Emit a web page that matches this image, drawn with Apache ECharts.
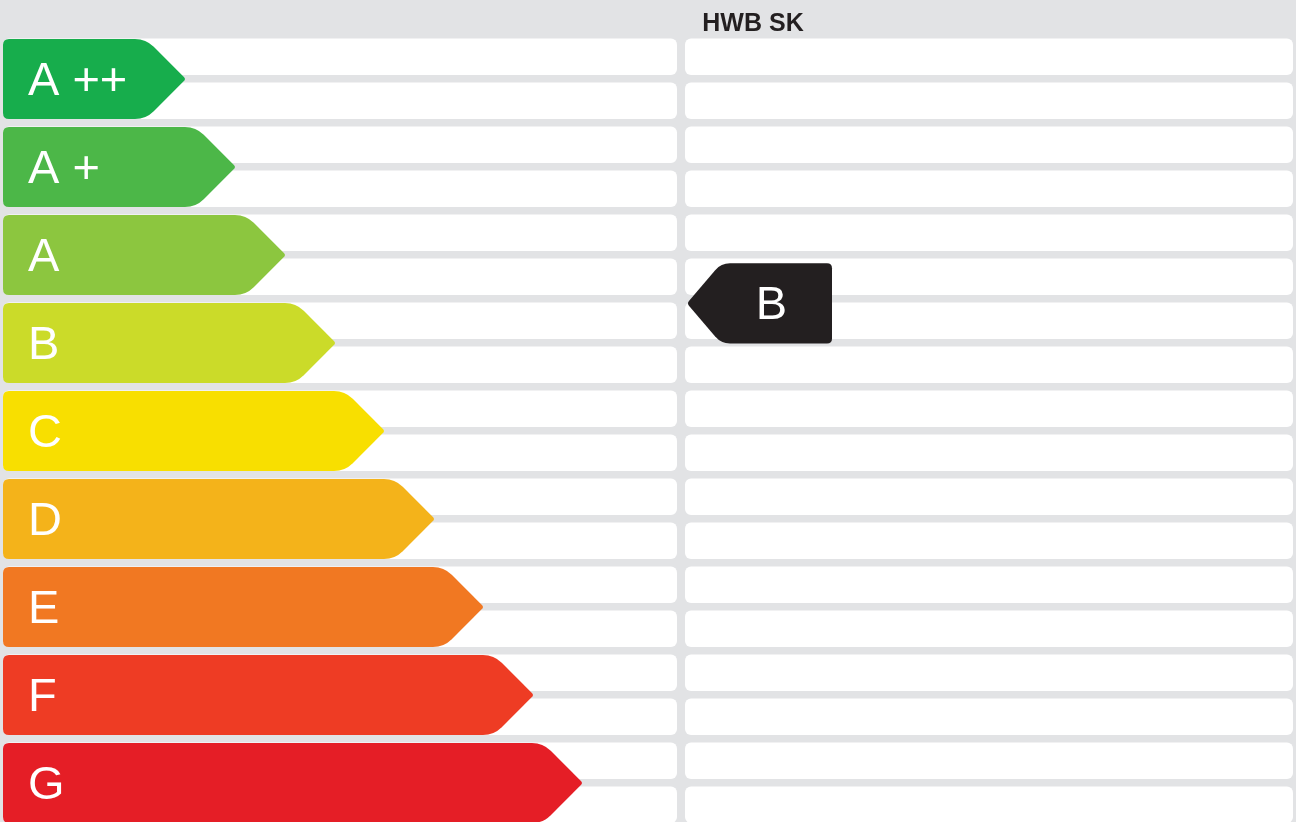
<!DOCTYPE html>
<html><head><meta charset="utf-8">
<script src="https://cdn.jsdelivr.net/npm/echarts@6/dist/echarts.min.js"></script>
<style>html,body{margin:0;padding:0;background:#e2e3e5}#chart{width:1296px;height:822px}</style>
</head><body><div id="chart"></div>
<script>
// ---- data ----
const classLabels = ['A ++', 'A +', 'A', 'B', 'C', 'D', 'E', 'F', 'G'];
const classTips = [186, 236, 286, 336, 385, 435, 484, 534, 583];
const indicatorLabel = 'B';
const indicatorValue = 3.05; // position on class scale (0 = top of A++)
const headerText = 'HWB SK';
const rowIndices = [0,1,2,3,4,5,6,7,8,9,10,11,12,13,14,15,16,17];

// ---- styles ----
const palette = ['#17ad4c', '#4cb748', '#8cc63f', '#cbdb29', '#f8df00', '#f4b31a', '#f17822', '#ee3c24', '#e51e26'];
const FONT = '"Liberation Sans", Arial, Helvetica, sans-serif';

function roundedPath(pts, radii) {
  let d = '';
  const n = pts.length;
  for (let i = 0; i < n; i++) {
    const p = pts[i], prev = pts[(i - 1 + n) % n], next = pts[(i + 1) % n];
    const r = radii[i];
    const v1 = [prev[0] - p[0], prev[1] - p[1]], l1 = Math.hypot(v1[0], v1[1]);
    const v2 = [next[0] - p[0], next[1] - p[1]], l2 = Math.hypot(v2[0], v2[1]);
    const a = [p[0] + v1[0] / l1 * r, p[1] + v1[1] / l1 * r];
    const b = [p[0] + v2[0] / l2 * r, p[1] + v2[1] / l2 * r];
    d += (i === 0 ? 'M' : 'L') + a[0].toFixed(2) + ' ' + a[1].toFixed(2) +
      ' Q' + p[0].toFixed(2) + ' ' + p[1].toFixed(2) + ' ' + b[0].toFixed(2) + ' ' + b[1].toFixed(2) + ' ';
  }
  return d + 'Z';
}

const chart = echarts.init(document.getElementById('chart'), null, {renderer: 'canvas'});

// grid spans y 35..822 (787px); one class band = 88px
const yMax = 787 / 88;

const option = {
  backgroundColor: '#e2e3e5',
  animation: false,
  title: {
    text: headerText, left: 753, top: 12, textAlign: 'center', padding: 0,
    textStyle: {fontSize: 25, fontWeight: 'bold', color: '#231f20', fontFamily: FONT}
  },
  grid: {left: 0, right: 0, top: 35, bottom: 0},
  xAxis: {type: 'value', min: 0, max: 1296, show: false},
  yAxis: {type: 'value', min: 0, max: yMax, inverse: true, show: false},
  series: [
    {
      type: 'custom', silent: true, clip: false,
      data: rowIndices.map(r => [r]),
      renderItem: function (params, api) {
        const r = api.value(0);
        const sub = api.size([0, 1])[1] / 2;
        const top = api.coord([0, r / 2])[1] + 0.08 * sub;
        const h = 0.83 * sub;
        const lx0 = api.coord([3, 0])[0], lx1 = api.coord([677, 0])[0];
        const rx0 = api.coord([685, 0])[0], rx1 = api.coord([1293, 0])[0];
        return {
          type: 'group', children: [
            {type: 'rect', shape: {x: lx0, y: top, width: lx1 - lx0, height: h, r: 6}, style: {fill: '#ffffff'}},
            {type: 'rect', shape: {x: rx0, y: top, width: rx1 - rx0, height: h, r: 6}, style: {fill: '#ffffff'}}
          ]
        };
      }
    },
    {
      type: 'custom', silent: true, clip: false,
      data: classTips.map((t, i) => [i, t]),
      renderItem: function (params, api) {
        const i = api.value(0), tip = api.value(1);
        const unit = api.size([0, 1])[1];
        const top = api.coord([0, i])[1] + 0.045 * unit;
        const bottom = api.coord([0, i])[1] + 0.955 * unit;
        const mid = (top + bottom) / 2, half = (bottom - top) / 2;
        const x0 = api.coord([3, 0])[0], tx = api.coord([tip, 0])[0];
        const pts = [[x0, top], [tx - half, top], [tx, mid], [tx - half, bottom], [x0, bottom]];
        return {
          type: 'group', children: [
            {type: 'path', shape: {pathData: roundedPath(pts, [6, 11, 3, 11, 6])}, style: {fill: palette[i]}},
            {type: 'text', style: {text: classLabels[i], x: x0 + 25, y: mid + 3, fill: '#ffffff',
              font: '47px ' + FONT, align: 'left', verticalAlign: 'middle'}}
          ]
        };
      }
    },
    {
      type: 'custom', silent: true, clip: false,
      data: [[indicatorValue]],
      renderItem: function (params, api) {
        const v = api.value(0);
        const unit = api.size([0, 1])[1];
        const mid = api.coord([0, v])[1];
        const half = 0.455 * unit;
        const tx = api.coord([687, 0])[0], bx = api.coord([721, 0])[0], rx = api.coord([832, 0])[0];
        const lx = api.coord([771.5, 0])[0];
        const pts = [[tx, mid], [bx, mid - half], [rx, mid - half], [rx, mid + half], [bx, mid + half]];
        return {
          type: 'group', children: [
            {type: 'path', shape: {pathData: roundedPath(pts, [3, 9, 5, 5, 9])}, style: {fill: '#231f20'}},
            {type: 'text', style: {text: indicatorLabel, x: lx, y: mid + 3, fill: '#ffffff',
              font: '47px ' + FONT, align: 'center', verticalAlign: 'middle'}}
          ]
        };
      }
    }
  ]
};
chart.setOption(option);
</script>
</body></html>
